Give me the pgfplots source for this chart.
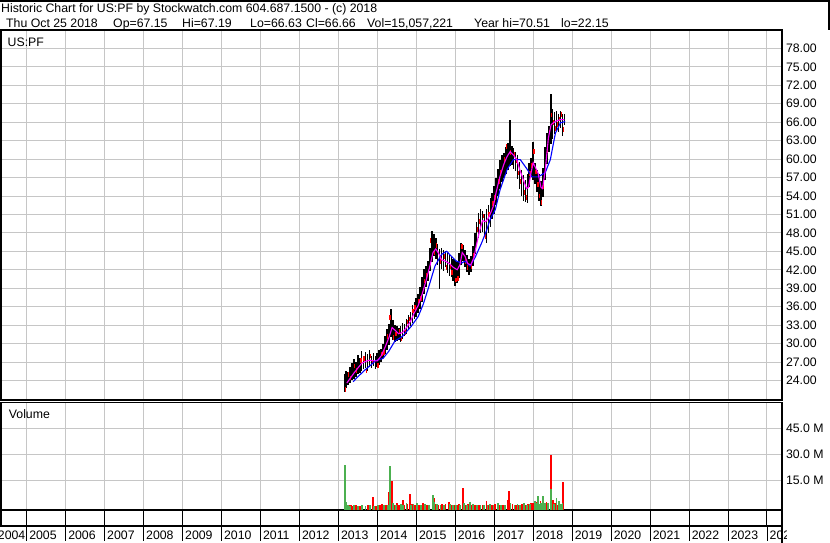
\documentclass[border=0pt]{standalone}
\usepackage{pgfplots}
\pgfplotsset{compat=1.18}
\usepackage{pgfplotstable}
\usepackage{fontspec}
\setmainfont{Liberation Sans}
\newcommand\f{\fontsize{12.3bp}{14bp}\selectfont}
\definecolor{gridgray}{RGB}{198,198,198}
\definecolor{vgreen}{RGB}{76,176,80}
\definecolor{vred}{RGB}{255,0,0}
\definecolor{mag}{RGB}{255,0,255}
\definecolor{mablue}{RGB}{0,0,255}

\pgfplotstableread{
x lo hi
2013.17 22.2 25.0
2013.20 22.8 25.6
2013.25 23.3 25.4
2013.30 23.6 26.2
2013.35 24.0 26.8
2013.40 24.3 27.5
2013.45 24.6 27.0
2013.50 25.0 28.2
2013.55 25.2 27.6
2013.60 25.5 28.8
2013.65 25.8 28.0
2013.70 26.0 28.6
2013.75 25.6 28.3
2013.80 26.2 28.9
2013.85 26.0 27.9
2013.90 26.3 28.4
2013.95 25.8 28.0
2014.00 26.2 28.5
2014.05 26.5 29.0
2014.10 27.0 29.2
2014.15 27.6 30.0
2014.20 28.3 31.2
2014.25 29.0 32.4
2014.30 29.8 33.2
2014.35 31.0 35.7
2014.40 30.6 33.8
2014.45 30.2 33.0
2014.50 30.4 32.8
2014.55 30.6 32.5
2014.60 30.3 32.8
2014.65 30.8 33.4
2014.70 31.2 33.2
2014.75 31.6 34.0
2014.80 32.2 34.6
2014.85 32.8 35.2
2014.90 33.4 36.2
2014.95 34.0 36.8
2015.00 34.4 37.4
2015.05 35.0 38.0
2015.10 35.6 39.2
2015.15 36.8 40.8
2015.20 38.0 42.2
2015.25 39.2 42.6
2015.30 40.2 43.4
2015.35 41.8 45.6
2015.40 43.2 48.3
2015.45 44.2 47.8
2015.50 43.8 47.2
2015.55 42.8 46.2
2015.60 38.8 45.4
2015.65 42.2 45.6
2015.70 41.8 45.2
2015.75 42.4 45.0
2015.80 41.4 44.8
2015.85 41.0 44.6
2015.90 40.8 44.2
2015.95 40.2 43.8
2016.00 39.4 43.6
2016.05 39.8 43.2
2016.10 40.6 44.8
2016.15 42.8 46.4
2016.20 43.4 46.0
2016.25 42.4 45.2
2016.30 41.6 44.4
2016.35 41.2 43.8
2016.40 41.6 44.2
2016.45 42.6 45.8
2016.50 44.6 48.0
2016.55 46.0 49.8
2016.60 47.2 51.2
2016.65 48.0 51.8
2016.70 48.2 51.6
2016.75 47.6 51.0
2016.80 46.4 51.8
2016.85 48.0 52.6
2016.90 49.0 53.6
2016.95 50.2 54.4
2017.00 51.0 55.6
2017.05 52.6 57.0
2017.10 54.0 58.4
2017.15 55.2 59.8
2017.20 56.2 60.6
2017.25 57.0 61.0
2017.30 57.6 62.0
2017.35 58.2 62.6
2017.40 58.8 66.3
2017.45 59.0 62.2
2017.50 58.4 61.8
2017.55 58.0 61.2
2017.60 56.8 60.6
2017.65 55.2 59.6
2017.70 54.0 58.2
2017.75 53.2 57.4
2017.80 53.0 56.6
2017.85 52.9 57.6
2017.90 55.4 59.4
2017.95 57.0 60.2
2018.00 56.6 62.8
2018.05 56.0 59.4
2018.10 54.6 58.2
2018.15 53.2 57.6
2018.20 52.3 56.4
2018.25 53.8 58.6
2018.30 56.6 62.0
2018.35 59.2 64.2
2018.40 61.2 65.4
2018.45 62.4 70.5
2018.50 63.2 68.2
2018.55 64.0 67.6
2018.60 64.6 67.8
2018.65 64.4 67.4
2018.70 65.0 67.8
2018.75 63.8 67.4
2018.80 65.6 67.3
}\price

\pgfplotstableread{
x lo hi
2013.18 22.2 23.0
2013.27 24.6 25.3
2013.32 24.0 24.8
2013.42 26.0 26.7
2013.47 25.2 26.0
2013.58 26.8 27.6
2013.66 27.2 27.9
2013.72 25.2 26.0
2013.82 27.6 28.3
2013.88 26.6 27.4
2014.02 26.0 26.8
2014.12 28.0 28.7
2014.17 28.2 29.0
2014.27 30.8 31.6
2014.33 33.8 34.6
2014.42 30.6 31.4
2014.48 31.2 31.9
2014.57 31.6 32.4
2014.62 30.4 31.1
2014.72 31.4 32.2
2014.78 33.2 33.9
2014.83 33.6 34.4
2014.92 35.0 35.7
2014.97 35.4 36.2
2015.07 36.6 37.3
2015.12 37.0 37.8
2015.22 39.8 40.5
2015.27 40.6 41.4
2015.37 46.4 47.2
2015.47 44.4 45.1
2015.52 45.6 46.4
2015.62 43.0 43.8
2015.72 43.8 44.5
2015.77 42.0 42.8
2015.87 42.2 42.9
2015.92 41.2 42.0
2016.02 40.0 40.7
2016.07 40.2 41.0
2016.17 45.4 46.2
2016.27 43.0 43.7
2016.32 42.0 42.8
2016.42 42.2 42.9
2016.47 44.0 44.8
2016.57 48.2 48.9
2016.62 49.4 50.2
2016.72 50.4 51.1
2016.77 47.0 47.8
2016.87 50.6 51.4
2016.97 52.4 53.1
2017.02 53.4 54.2
2017.12 56.0 56.7
2017.17 57.4 58.2
2017.27 59.6 60.3
2017.32 61.6 62.4
2017.42 60.6 61.4
2017.52 60.4 61.1
2017.57 59.4 60.2
2017.62 57.4 58.1
2017.67 56.0 56.8
2017.77 54.2 54.9
2017.82 53.4 54.2
2017.92 57.2 58.0
2017.97 58.6 59.3
2018.02 60.8 61.6
2018.07 57.6 58.3
2018.12 55.4 56.2
2018.17 53.6 54.3
2018.22 52.6 53.4
2018.27 55.2 55.9
2018.32 58.4 59.2
2018.37 61.0 61.7
2018.42 64.0 64.8
2018.47 66.8 67.5
2018.52 65.6 66.4
2018.57 64.6 65.3
2018.62 65.2 66.0
2018.67 66.2 66.9
2018.72 66.8 67.6
2018.78 64.4 65.2
}\redticks

\pgfplotstableread{
x y
2013.22 23.6
2013.30 24.3
2013.40 25.2
2013.50 26.0
2013.60 26.8
2013.70 27.1
2013.80 27.3
2013.90 27.2
2014.00 27.2
2014.10 28.0
2014.20 29.4
2014.30 31.0
2014.38 32.6
2014.45 32.2
2014.55 31.6
2014.65 31.8
2014.75 32.6
2014.85 33.6
2014.95 35.0
2015.05 36.2
2015.15 38.0
2015.25 40.2
2015.35 42.6
2015.43 44.8
2015.50 45.4
2015.58 44.6
2015.65 43.6
2015.75 43.4
2015.85 43.0
2015.95 42.4
2016.05 42.0
2016.12 42.8
2016.18 44.8
2016.25 44.2
2016.32 43.0
2016.40 42.8
2016.48 44.0
2016.55 46.2
2016.62 48.2
2016.70 50.0
2016.78 49.8
2016.85 50.4
2016.92 51.4
2016.98 52.4
2017.05 54.6
2017.15 57.2
2017.25 59.2
2017.33 60.4
2017.41 61.2
2017.50 60.6
2017.58 59.9
2017.66 58.2
2017.75 56.6
2017.83 55.2
2017.88 55.4
2017.94 57.6
2018.00 59.4
2018.06 58.6
2018.13 57.6
2018.20 55.4
2018.24 55.2
2018.31 58.2
2018.39 63.4
2018.46 65.6
2018.52 65.9
2018.60 66.2
2018.70 66.4
2018.80 66.4
}\mashort

\pgfplotstableread{
x y
2013.38 23.8
2013.50 24.6
2013.70 25.8
2013.85 26.6
2013.95 27.2
2014.15 27.6
2014.30 28.8
2014.45 30.4
2014.65 31.2
2014.87 32.8
2015.05 34.4
2015.18 36.4
2015.30 38.8
2015.48 42.6
2015.65 44.5
2015.78 45.0
2015.90 44.2
2016.03 43.4
2016.17 43.1
2016.25 43.4
2016.38 42.6
2016.51 44.0
2016.68 46.4
2016.81 48.5
2016.89 50.1
2017.03 51.8
2017.15 55.0
2017.33 58.3
2017.49 59.9
2017.67 59.9
2017.85 58.3
2017.97 57.1
2018.13 57.1
2018.31 57.8
2018.44 59.9
2018.57 64.2
2018.70 65.9
2018.82 66.1
}\malong

\pgfplotstableread{
x v
2013.19 1.5
2013.22 1.0
2013.27 0.8
2013.32 1.2
2013.37 0.6
2013.45 0.8
2013.55 0.5
2013.62 0.6
2013.77 0.7
2013.89 5.5
2013.97 0.6
2014.07 0.9
2014.12 1.4
2014.22 1.2
2014.30 8.4
2014.37 14.6
2014.45 1.2
2014.50 1.8
2014.55 1.0
2014.65 4.0
2014.70 1.2
2014.77 1.4
2014.84 7.1
2014.90 1.6
2014.97 1.2
2015.07 0.9
2015.17 1.8
2015.27 1.0
2015.45 4.8
2015.50 1.3
2015.57 1.0
2015.67 1.7
2015.75 1.4
2015.84 2.7
2015.90 1.0
2015.98 1.2
2016.05 0.8
2016.10 1.5
2016.19 10.7
2016.25 1.0
2016.32 1.3
2016.40 0.8
2016.50 0.9
2016.60 1.1
2016.70 1.0
2016.80 3.0
2016.87 1.2
2016.95 1.0
2017.02 1.4
2017.14 1.0
2017.22 1.2
2017.34 3.6
2017.38 8.8
2017.47 1.4
2017.55 1.0
2017.62 1.2
2017.72 1.3
2017.80 1.0
2017.87 1.5
2017.95 2.2
2018.00 1.8
2018.07 2.4
2018.11 1.5
2018.19 3.0
2018.22 1.4
2018.29 2.0
2018.34 2.6
2018.45 29.6
2018.48 3.0
2018.51 3.6
2018.56 1.8
2018.64 1.2
2018.69 1.5
2018.74 1.0
2018.77 14.0
}\redvol

\pgfplotstableread{
x v
2013.17 23.8
2013.20 2.8
2013.25 1.2
2013.30 0.6
2013.40 0.9
2013.50 0.6
2013.60 0.8
2013.70 0.5
2013.82 0.9
2013.92 0.6
2014.02 0.7
2014.17 0.8
2014.27 1.0
2014.32 23.3
2014.40 2.0
2014.47 1.0
2014.60 1.6
2014.67 0.9
2014.75 1.8
2014.87 1.0
2014.93 1.4
2015.02 2.2
2015.12 0.8
2015.22 1.6
2015.32 1.0
2015.42 6.5
2015.47 2.4
2015.53 1.6
2015.62 0.9
2015.72 1.0
2015.87 1.4
2015.95 0.9
2016.02 1.2
2016.13 1.0
2016.22 1.8
2016.30 1.0
2016.37 2.5
2016.45 1.5
2016.55 0.8
2016.65 1.2
2016.73 1.0
2016.83 1.0
2016.90 1.4
2016.98 1.1
2017.10 2.0
2017.17 1.2
2017.27 1.0
2017.42 2.0
2017.52 1.1
2017.60 1.5
2017.67 1.0
2017.77 1.8
2017.85 1.2
2017.92 1.5
2018.04 3.0
2018.08 2.0
2018.13 6.0
2018.16 1.5
2018.21 1.8
2018.26 6.0
2018.31 1.8
2018.38 2.2
2018.45 10.0
2018.53 1.5
2018.60 5.2
2018.66 3.0
2018.71 1.4
2018.75 2.2
}\greenvol

\begin{document}
\begin{tikzpicture}[x=1bp,y=1bp]
\path[use as bounding box] (0,0) rectangle (830,543);

% header
\draw[line width=1.6bp] (0,542.2) -- (829.2,542.2) -- (829.2,512.8);
\node[anchor=base west, inner sep=0] at (1,530.5) {\f Historic Chart for US:PF by Stockwatch.com 604.687.1500 - (c) 2018};
\node[anchor=base west, inner sep=0] at (6,515.8) {\f Thu Oct 25 2018};
\node[anchor=base west, inner sep=0] at (113,515.8) {\f Op=67.15};
\node[anchor=base west, inner sep=0] at (182,515.8) {\f Hi=67.19};
\node[anchor=base west, inner sep=0] at (250,515.8) {\f Lo=66.63};
\node[anchor=base west, inner sep=0] at (306,515.8) {\f Cl=66.66};
\node[anchor=base west, inner sep=0] at (367,515.8) {\f Vol=15,057,221};
\node[anchor=base west, inner sep=0] at (474,515.8) {\f Year hi=70.51};
\node[anchor=base west, inner sep=0] at (561,515.8) {\f lo=22.15};

% price panel
\begin{axis}[
  at={(1bp,142.7bp)}, anchor=south west,
  width=781bp, height=370.1bp, scale only axis,
  xmin=2004.345, xmax=2024.385, ymin=20.78, ymax=80.95,
  xtick={2005,...,2024}, xticklabels={},
  ytick={24,27,...,78},
  yticklabel pos=right,
  yticklabel={\pgfmathprintnumber[fixed,fixed zerofill,precision=2,assume math mode=true]{\tick}},
  yticklabel style={font=\f, anchor=west, xshift=0.5bp},
  grid=major, major grid style={draw=gridgray, line width=0.9bp},
  major tick length=0pt,
  axis line style={line width=1.6bp},
  clip=true,
]
\addplot[draw=none, mark=none,
  error bars/.cd, y dir=both, y explicit, error mark=none,
  error bar style={draw=black, line width=1.6bp}]
  table[x=x, y expr={(\thisrow{lo}+\thisrow{hi})/2}, y error expr={(\thisrow{hi}-\thisrow{lo})/2}] {\price};
\addplot[draw=none, mark=none,
  error bars/.cd, y dir=both, y explicit, error mark=none,
  error bar style={draw=vred, line width=1.3bp}]
  table[x=x, y expr={(\thisrow{lo}+\thisrow{hi})/2}, y error expr={(\thisrow{hi}-\thisrow{lo})/2}] {\redticks};
\addplot[mablue, line width=1.1bp, mark=none] table[x=x, y=y] {\malong};
\addplot[mag, line width=1.1bp, mark=none] table[x=x, y=y] {\mashort};
\end{axis}
\node[anchor=base west, inner sep=0] at (7.5,496.5) {\f US:PF};

% volume panel
\begin{axis}[
  at={(1bp,33bp)}, anchor=south west,
  width=781bp, height=107.5bp, scale only axis,
  xmin=2004.345, xmax=2024.385, ymin=-1.95, ymax=59.8,
  xtick={2005,...,2024}, xticklabels={},
  ytick={15,30,45}, yticklabels={15.0 M,30.0 M,45.0 M},
  yticklabel pos=right,
  yticklabel style={font=\f, anchor=west, xshift=0.5bp},
  grid=major, major grid style={draw=gridgray, line width=0.9bp},
  major tick length=0pt,
  axis line style={line width=1.6bp},
]
\addplot[draw=none, mark=none,
  error bars/.cd, y dir=plus, y explicit, error mark=none,
  error bar style={draw=vred, line width=1.8bp}]
  table[x=x, y expr=-1.95, y error plus expr={\thisrow{v}+1.95}] {\redvol};
\addplot[draw=none, mark=none,
  error bars/.cd, y dir=plus, y explicit, error mark=none,
  error bar style={draw=vgreen, line width=1.8bp}]
  table[x=x, y expr=-1.95, y error plus expr={\thisrow{v}+1.95}] {\greenvol};
\end{axis}
\node[anchor=base west, inner sep=0] at (8.7,124.5) {\f Volume};

% year row
\foreach \yr in {2005,...,2024} {
  \pgfmathsetmacro\xx{26.5+(\yr-2005)*38.97}
  \draw[line width=0.9bp] (\xx,33) -- (\xx,17);
  \draw[line width=0.8bp] (\xx,17) -- (\xx,2);
}
\begin{scope}
\clip (0,0) rectangle (786,33);
\foreach \yr in {2005,...,2024} {
  \pgfmathsetmacro\xx{26.5+(\yr-2005)*38.97}
  \node[anchor=base west, inner sep=0] at (\xx+2.6,3.5) {\f\yr};
}
\node[anchor=base east, inner sep=0] at (25.5,3.5) {\f 2004};
\end{scope}
\draw[line width=1.8bp] (0,17) -- (782,17);
\draw[line width=1.6bp] (1,33) -- (1,16.1);
\draw[line width=1.6bp] (782,33) -- (782,0);
\end{tikzpicture}
\end{document}
